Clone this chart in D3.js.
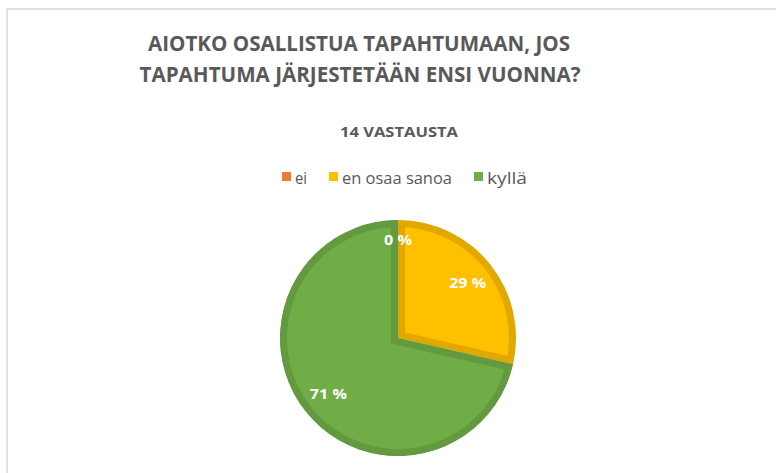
<!DOCTYPE html>
<html>
<head>
<meta charset="utf-8">
<script src="https://cdn.jsdelivr.net/npm/d3@7"></script>
<style>
  html,body{margin:0;padding:0;background:#fff;}
  svg{display:block;font-family:"Open Sans",sans-serif;}
</style>
</head>
<body>
<div id="chart"></div>
<script>
// Aineisto kuvasta: 14 vastausta
const titleLines = ["AIOTKO OSALLISTUA TAPAHTUMAAN, JOS", "TAPAHTUMA JÄRJESTETÄÄN ENSI VUONNA?"];
const subtitle = "14 VASTAUSTA";
const categories = ["ei", "en osaa sanoa", "kyllä"];
const counts = [0, 4, 10];
const colors = ["#ED7D31", "#FFC000", "#70AD47"];

const W = 776, H = 473, cx = 398, cy = 338, R = 118;
const svg = d3.select("#chart").append("svg").attr("width", W).attr("height", H);

// kehys
svg.append("rect").attr("x",7).attr("y",9).attr("width",W+20).attr("height",H+20)
  .attr("fill","none").attr("stroke","#d9d9d9").attr("stroke-width",1.6);

// otsikko
const tl = [{y:51, w:422, c:359}, {y:82, w:441, c:360}];
titleLines.forEach((t,i)=>{
  svg.append("text").attr("x",tl[i].c).attr("y",tl[i].y).attr("text-anchor","middle")
    .attr("font-size",22).attr("font-weight",700).attr("fill","#595959")
    .attr("textLength",tl[i].w).attr("lengthAdjust","spacingAndGlyphs").text(t);
});
svg.append("text").attr("x",399).attr("y",137).attr("text-anchor","middle")
  .attr("font-size",14).attr("font-weight",700).attr("fill","#595959")
  .attr("textLength",118).attr("lengthAdjust","spacingAndGlyphs").text(subtitle);

// selite (leveydet kuvasta)
const legW = [12, 110, 40];
const lg = svg.append("g");
let lx = 282;
categories.forEach((c,i)=>{
  lg.append("rect").attr("x",lx).attr("y",172).attr("width",9).attr("height",9).attr("fill",colors[i]);
  lg.append("text").attr("x",lx+13).attr("y",184).attr("font-size",16).attr("fill","#595959")
    .attr("textLength",legW[i]).attr("lengthAdjust","spacingAndGlyphs").text(c);
  lx += 13 + legW[i] + 22;
});

// piirakka
const total = d3.sum(counts);
const pie = d3.pie().sort(null).value(d=>d)(counts);
const arc = d3.arc().innerRadius(0).outerRadius(R);
const g = svg.append("g").attr("transform",`translate(${cx},${cy})`);
const defs = svg.append("defs");
pie.forEach((p,i)=>{
  if(p.endAngle - p.startAngle <= 0) return;
  defs.append("clipPath").attr("id","clip"+i).append("path").attr("d",arc(p));
  g.append("path").attr("d",arc(p)).attr("fill",colors[i])
    .attr("stroke",d3.color(colors[i]).darker(0.35)).attr("stroke-width",14)
    .attr("stroke-linejoin","miter").attr("clip-path",`url(#clip${i})`);
});

// arvot
const lblArc = d3.arc().innerRadius(R*0.755).outerRadius(R*0.755);
const zeroArc = d3.arc().innerRadius(R*0.83).outerRadius(R*0.83);
pie.forEach((p,i)=>{
  const pos = (p.endAngle - p.startAngle > 0 ? lblArc : zeroArc).centroid(p);
  const t = g.append("text").attr("x",pos[0]).attr("y",pos[1]).attr("dy","0.35em").attr("text-anchor","middle")
    .attr("font-size",15).attr("font-weight",700).attr("fill","#fff")
    .text(Math.round(counts[i]/total*100) + " %");
  t.attr("textLength", counts[i] ? 37 : 28).attr("lengthAdjust","spacingAndGlyphs");
});
</script>
</body>
</html>
